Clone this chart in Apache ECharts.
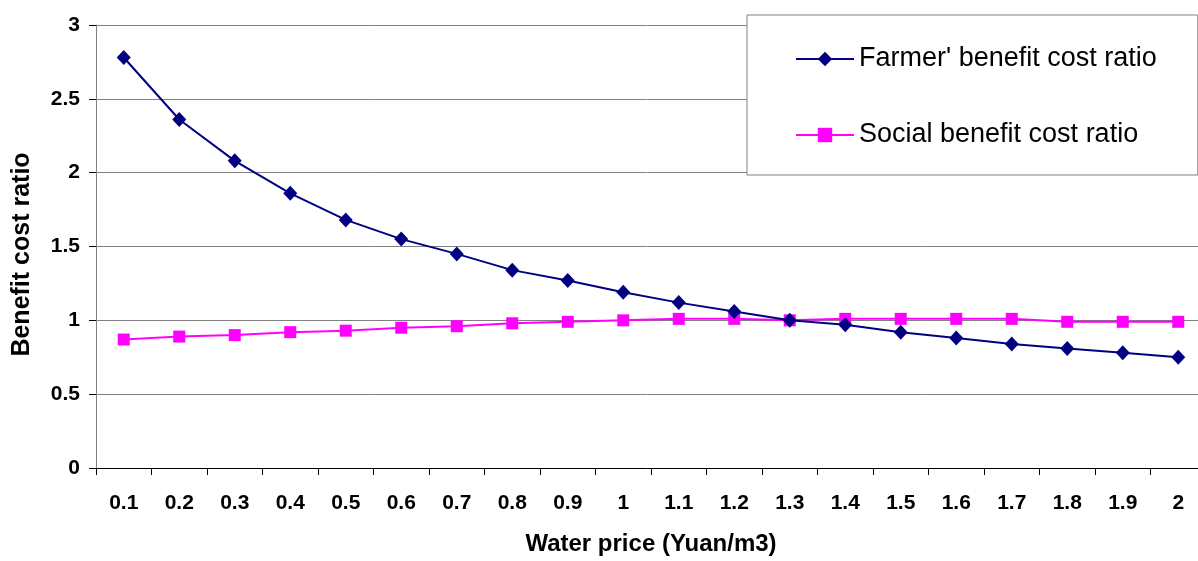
<!DOCTYPE html>
<html>
<head>
<meta charset="utf-8">
<script src="https://cdn.jsdelivr.net/npm/echarts@6/dist/echarts.min.js"></script>
<style>
html,body{margin:0;padding:0;background:#fff;}
#chart{width:1198px;height:561px;}
</style>
</head>
<body>
<div id="chart"></div>
<script>
const categories = ['0.1','0.2','0.3','0.4','0.5','0.6','0.7','0.8','0.9','1','1.1','1.2','1.3','1.4','1.5','1.6','1.7','1.8','1.9','2'];
const farmerRatio = [2.78,2.36,2.08,1.86,1.68,1.55,1.45,1.34,1.27,1.19,1.12,1.06,1.00,0.97,0.92,0.88,0.84,0.81,0.78,0.75];
const socialRatio = [0.87,0.89,0.90,0.92,0.93,0.95,0.96,0.98,0.99,1.00,1.01,1.01,1.00,1.01,1.01,1.01,1.01,0.99,0.99,0.99];
const seriesNames = ["Farmer' benefit cost ratio", 'Social benefit cost ratio'];

const font = 'Liberation Sans, Arial, sans-serif';
const chart = echarts.init(document.getElementById('chart'), null, {renderer:'canvas'});
chart.setOption({
  animation: false,
  backgroundColor: '#fff',
  grid: {left: 96, top: 25, width: 1110, height: 443, containLabel: false, outerBoundsMode: 'none'},
  legend: {
    orient: 'vertical',
    left: 747, top: 15,
    padding: [29, 41, 25, 48],
    itemGap: 46,
    itemWidth: 58, itemHeight: 18,
    backgroundColor: '#fff',
    borderColor: '#808080', borderWidth: 1,
    textStyle: {fontFamily: font, fontSize: 27, color: '#000', lineHeight: 30},
    data: seriesNames
  },
  xAxis: {
    type: 'category',
    data: categories,
    boundaryGap: true,
    name: 'Water price (Yuan/m3)',
    nameLocation: 'middle',
    nameGap: 64,
    nameTextStyle: {fontFamily: font, fontSize: 24, fontWeight: 'bold', color: '#000'},
    axisLine: {lineStyle: {color: '#000', width: 1}},
    axisTick: {show: true, length: 7, inside: false, alignWithLabel: false, lineStyle: {color: '#000'}},
    axisLabel: {fontFamily: font, fontSize: 21, fontWeight: 'bold', color: '#000', margin: 25, interval: 0},
    splitLine: {show: false}
  },
  yAxis: {
    type: 'value',
    min: 0, max: 3, interval: 0.5,
    name: 'Benefit cost ratio',
    nameLocation: 'middle',
    nameGap: 61,
    nameTextStyle: {fontFamily: font, fontSize: 25, fontWeight: 'bold', color: '#000', padding: [0, 16, 0, 0]},
    axisLine: {show: true, lineStyle: {color: '#808080', width: 1}},
    axisTick: {show: true, length: 7, lineStyle: {color: '#000'}},
    axisLabel: {fontFamily: font, fontSize: 21, fontWeight: 'bold', color: '#000', margin: 16},
    splitLine: {show: true, lineStyle: {color: '#808080', width: 1}}
  },
  series: [
    {
      name: seriesNames[0],
      type: 'line',
      data: farmerRatio,
      symbol: 'diamond',
      symbolSize: [14, 15],
      lineStyle: {color: '#000080', width: 2},
      itemStyle: {color: '#000080'},
      z: 3
    },
    {
      name: seriesNames[1],
      type: 'line',
      data: socialRatio,
      symbol: 'rect',
      symbolSize: 12,
      lineStyle: {color: '#FF00FF', width: 2},
      itemStyle: {color: '#FF00FF'},
      z: 2
    }
  ]
});
</script>
</body>
</html>
